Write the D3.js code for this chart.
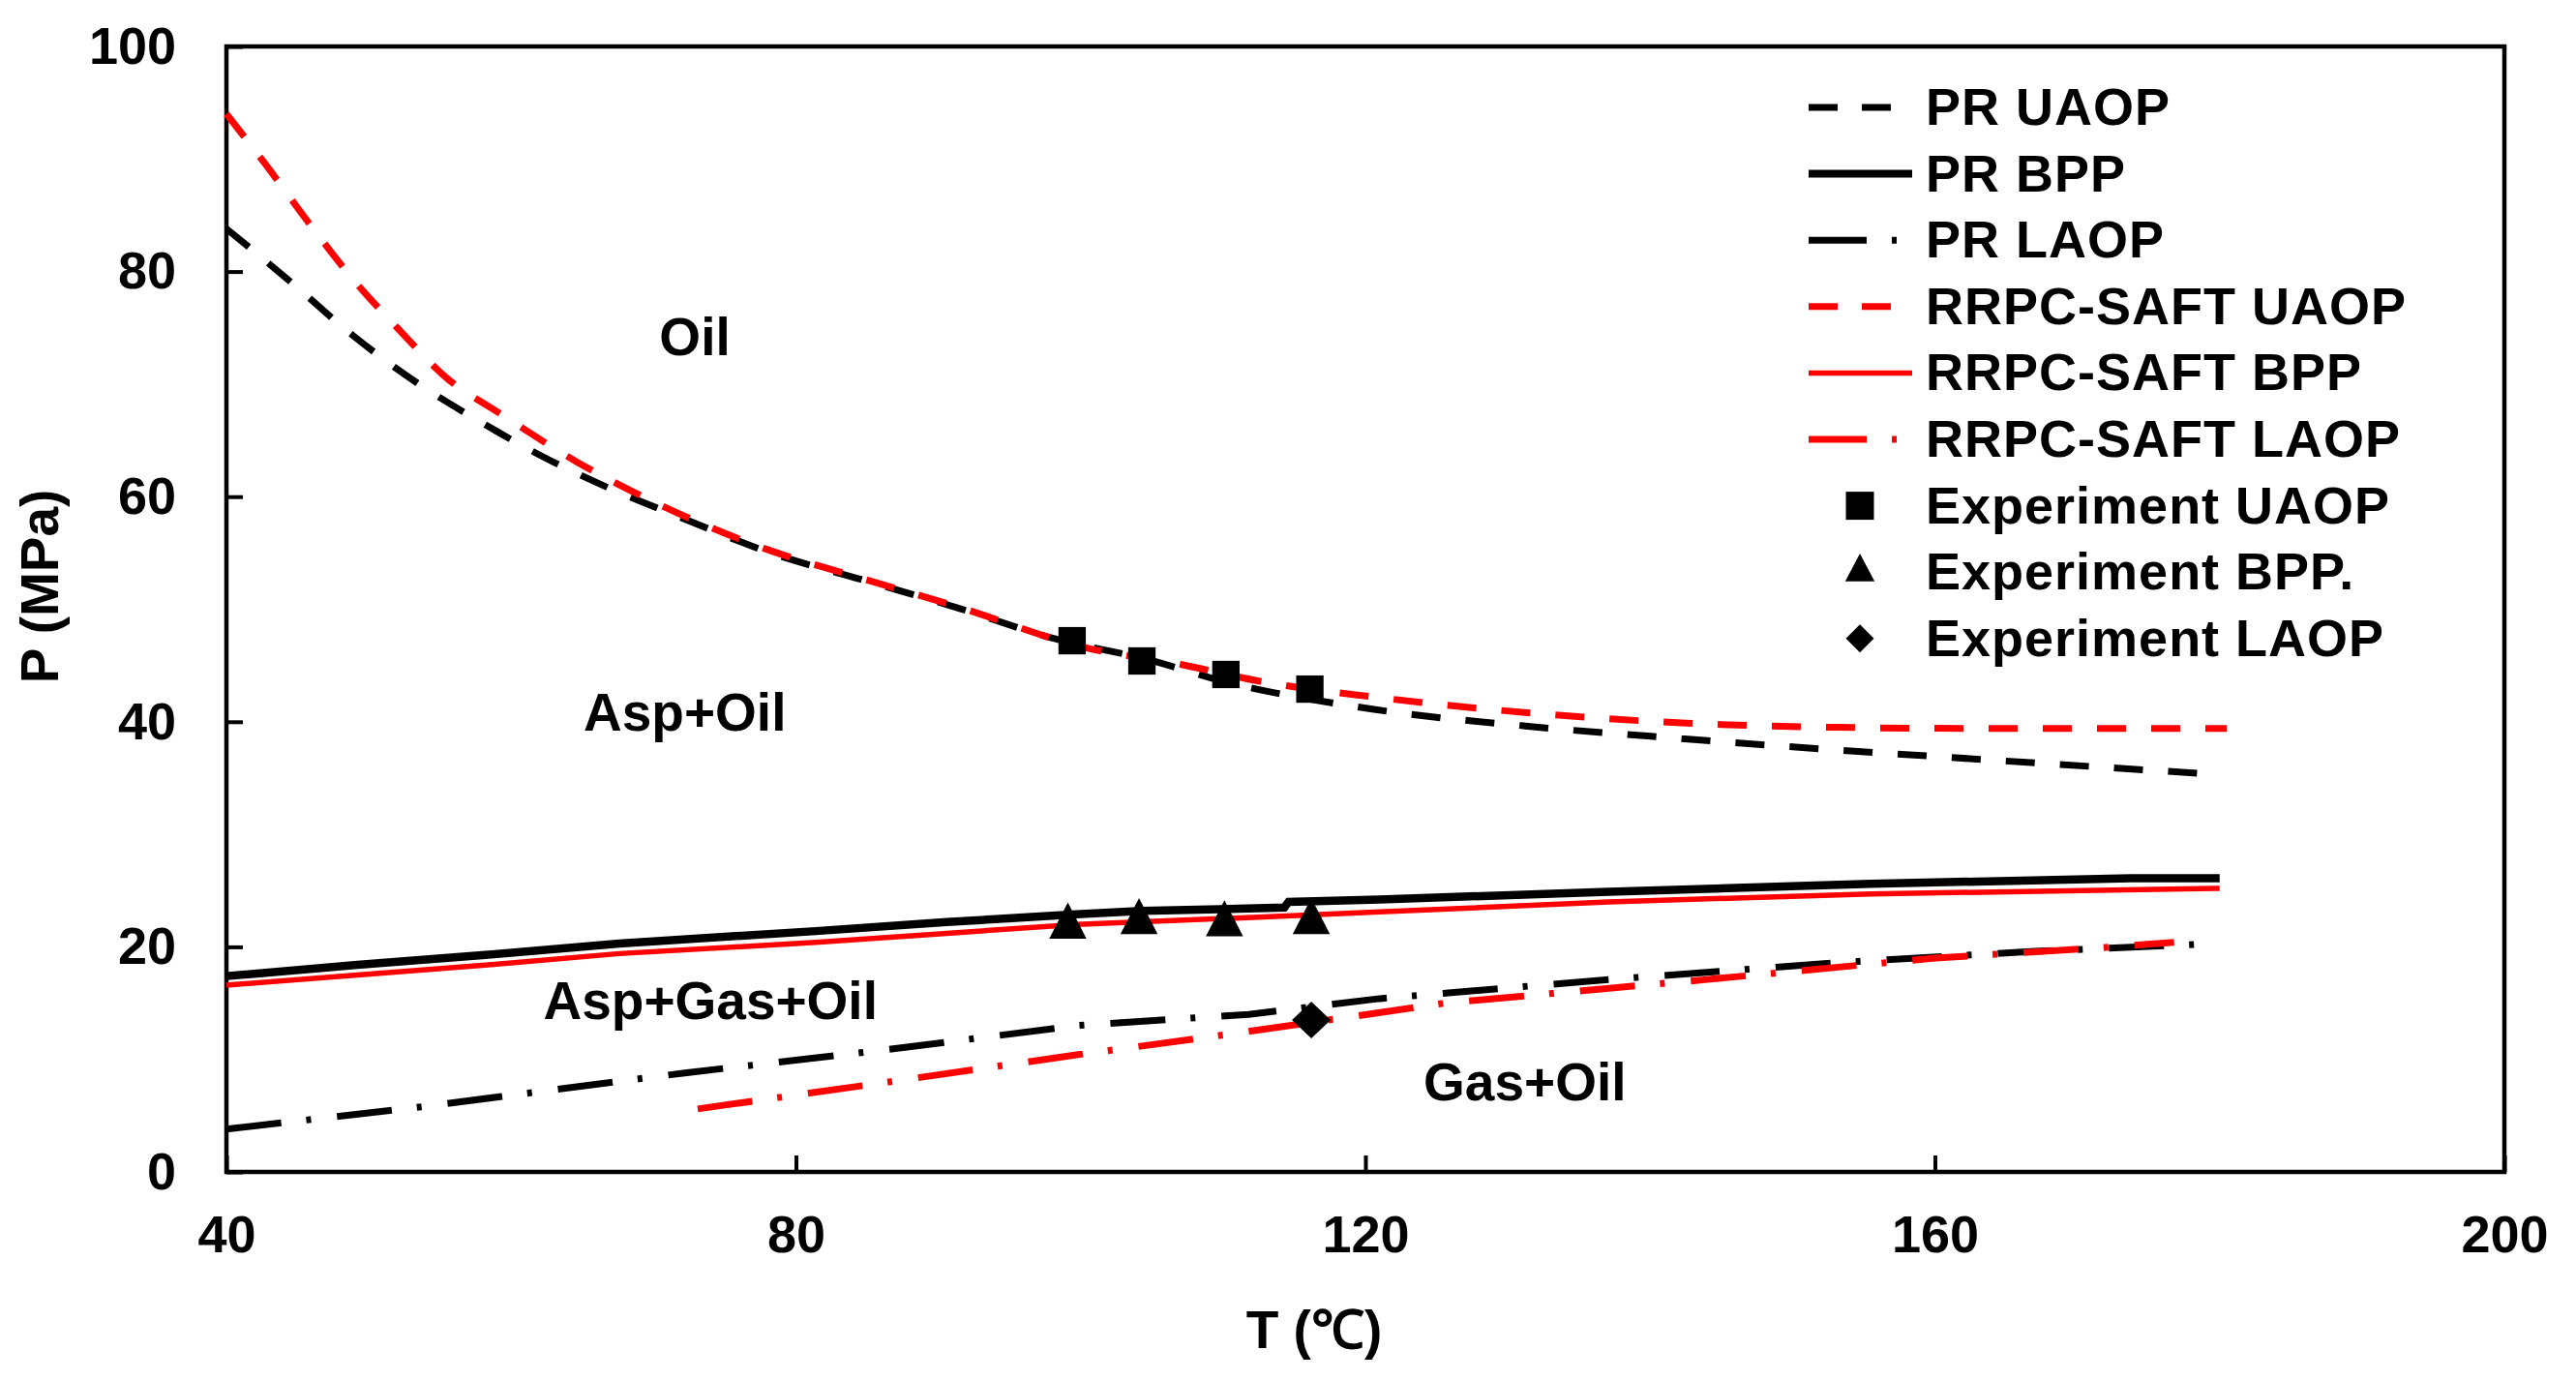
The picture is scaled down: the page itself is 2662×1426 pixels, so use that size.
<!DOCTYPE html>
<html>
<head>
<meta charset="utf-8">
<script src="https://cdn.jsdelivr.net/npm/d3@7/dist/d3.min.js"></script>
<style>
body{margin:0;background:#fff;}
text{font-family:"Liberation Sans",Arial,sans-serif;font-weight:bold;fill:#000;}
</style>
</head>
<body>
<div id="chart"></div>
<script>
var w = 2662;
var h = 1426;
var plotLeft = 234, plotRight = 2588, plotTop = 48, plotBottom = 1211;

var tMin = 40, tMax = 200;
var pMin = 0, pMax = 100;
var xTicks = [40, 80, 120, 160, 200];
var yTicks = [0, 20, 40, 60, 80, 100];

// PR model curves
var prUaopT = [40, 44.5, 48.9, 53.4, 57.9, 62.3, 66.8, 72.2, 78, 84.7, 91.4, 98.1, 104.8, 110, 120.6, 131.4, 142.2, 153, 163.9, 180];
var prUaopP = [83.8, 79.1, 74.3, 70.1, 66.6, 63.5, 60.8, 58.0, 55.1, 52.6, 50.1, 47.4, 45.5, 43.6, 41.1, 39.6, 38.5, 37.5, 36.6, 35.3];
var prBppT = [40, 49.2, 58.4, 67.6, 81.4, 90.6, 99.7, 104.3, 111.7, 114.3, 114.6, 121, 137.1, 155.5, 173.8, 180];
var prBppP = [17.4, 18.4, 19.3, 20.3, 21.4, 22.2, 22.9, 23.2, 23.4, 23.5, 24.0, 24.2, 24.9, 25.6, 26.1, 26.1];
var prLaopT = [40, 53.8, 72.2, 86, 99.7, 111.8, 121, 137.1, 153.2, 167, 180];
var prLaopP = [3.8, 5.8, 8.8, 10.8, 13.0, 14.0, 15.4, 17.1, 18.6, 19.6, 20.3];

// RRPC-SAFT model curves
var saftUaopT = [40, 42.7, 45.8, 48.9, 52, 55.6, 59.2, 64.6, 70.4, 78, 84.7, 91.4, 100.3, 107, 113, 120.6, 131.4, 142.2, 153.1, 165, 180.5];
var saftUaopP = [94.0, 89.6, 84.3, 79.3, 75.0, 70.4, 67.4, 63.1, 59.3, 55.3, 52.7, 50.2, 46.6, 45.1, 43.5, 42.2, 40.8, 39.9, 39.5, 39.4, 39.4];
var saftBppT = [40, 49.2, 58.4, 67.6, 81.4, 90.6, 99.7, 111.7, 121, 137.1, 155.5, 180];
var saftBppP = [16.6, 17.5, 18.4, 19.4, 20.4, 21.2, 22.0, 22.6, 23.1, 24.0, 24.7, 25.2];
var saftLaopT = [73.1, 86, 99.7, 110.8, 125.6, 144, 160, 171.5, 176.8];
var saftLaopP = [5.6, 7.9, 10.4, 12.3, 15.0, 17.1, 19.0, 19.9, 20.4];

// experiments
var expUaopT = [99.4, 104.3, 110.2, 116.1];
var expUaopP = [47.2, 45.4, 44.2, 42.9];
var expBppT = [99.1, 104.1, 110.1, 116.2];
var expBppP = [21.8, 22.2, 22.0, 22.2];
var expLaopT = [116.2];
var expLaopP = [13.5];

var legendLabels = ["PR UAOP", "PR BPP", "PR LAOP", "RRPC-SAFT UAOP", "RRPC-SAFT BPP", "RRPC-SAFT LAOP", "Experiment UAOP", "Experiment BPP.", "Experiment LAOP"];
var regionLabels = ["Oil", "Asp+Oil", "Asp+Gas+Oil", "Gas+Oil"];
var regionT = [72.9, 72.2, 74.0, 131.2];
var regionP = [72.6, 39.2, 13.6, 6.4];

var xScale = d3.scaleLinear().domain([tMin, tMax]).range([plotLeft, plotRight]);
var yScale = d3.scaleLinear().domain([pMin, pMax]).range([plotBottom, plotTop]);

function pts(ts, ps){
  var out = [];
  for (var i = 0; i < ts.length; i++) out.push({t: ts[i], p: ps[i]});
  return out;
}

var svg = d3.select("#chart").append("svg")
  .attr("width", w)
  .attr("height", h);

// axes (ticks inward)
var xAxis = svg.append("g")
  .attr("transform", "translate(0," + plotBottom + ")")
  .call(d3.axisBottom(xScale).tickValues(xTicks).tickSizeInner(-17).tickSizeOuter(0).tickPadding(45));
var yAxis = svg.append("g")
  .attr("transform", "translate(" + plotLeft + ",0)")
  .call(d3.axisLeft(yScale).tickValues(yTicks).tickSizeInner(-17).tickSizeOuter(0).tickPadding(52));
[xAxis, yAxis].forEach(function(a){
  a.select(".domain").remove();
  a.selectAll("line").attr("stroke", "#000").attr("stroke-width", 4);
  a.selectAll("text").style("font-size", "54px").attr("fill", "#000");
});

svg.append("rect")
  .attr("x", plotLeft).attr("y", plotTop)
  .attr("width", plotRight - plotLeft).attr("height", plotBottom - plotTop)
  .attr("fill", "none").attr("stroke", "#000").attr("stroke-width", 4.5);

// axis titles
svg.append("text")
  .attr("x", 1358).attr("y", 1393)
  .attr("text-anchor", "middle")
  .style("font-size", "55px")
  .text("T (℃)");
svg.append("text")
  .attr("transform", "rotate(-90)")
  .attr("x", -606).attr("y", 60)
  .attr("text-anchor", "middle")
  .style("font-size", "55px")
  .text("P (MPa)");

// curves
var smooth = d3.line().x(function(d){ return xScale(d.t); }).y(function(d){ return yScale(d.p); }).curve(d3.curveMonotoneX);
var straight = d3.line().x(function(d){ return xScale(d.t); }).y(function(d){ return yScale(d.p); });

var dashA = "30,26";
var dashDot = "57,26,5,27";

function curve(data, gen, color, width, dash){
  svg.append("path")
    .datum(data)
    .attr("d", gen)
    .attr("fill", "none")
    .attr("stroke", color)
    .attr("stroke-width", width)
    .attr("stroke-dasharray", dash);
}
curve(pts(prBppT, prBppP), straight, "#000", 8.5, null);
curve(pts(saftBppT, saftBppP), straight, "#ff0000", 5.5, null);
curve(pts(prLaopT, prLaopP), straight, "#000", 7, dashDot);
curve(pts(saftLaopT, saftLaopP), straight, "#ff0000", 7, dashDot);
curve(pts(prUaopT, prUaopP), smooth, "#000", 7, dashA);
curve(pts(saftUaopT, saftUaopP), smooth, "#ff0000", 7, dashA);

// experiment markers
var sq = d3.symbol().type(d3.symbolSquare).size(800);
var tri = d3.symbol().type(d3.symbolTriangle).size(640);
var dia = d3.symbol().type(d3.symbolSquare).size(800);

svg.selectAll(".expU").data(pts(expUaopT, expUaopP)).enter().append("path")
  .attr("d", sq)
  .attr("transform", function(d){ return "translate(" + xScale(d.t) + "," + yScale(d.p) + ")"; })
  .attr("fill", "#000");
svg.selectAll(".expB").data(pts(expBppT, expBppP)).enter().append("path")
  .attr("d", tri)
  .attr("transform", function(d){ return "translate(" + xScale(d.t) + "," + yScale(d.p) + ") scale(1,1.12)"; })
  .attr("fill", "#000");
svg.selectAll(".expL").data(pts(expLaopT, expLaopP)).enter().append("path")
  .attr("d", dia)
  .attr("transform", function(d){ return "translate(" + xScale(d.t) + "," + yScale(d.p) + ") scale(1,0.95) rotate(45)"; })
  .attr("fill", "#000");

// region labels
regionLabels.forEach(function(l, i){
  svg.append("text")
    .attr("x", xScale(regionT[i]))
    .attr("y", yScale(regionP[i]))
    .attr("text-anchor", "middle")
    .style("font-size", "55px")
    .text(l);
});

// legend
var legX = 1869, legLineEnd = 1976, legTextX = 1990, legY = 111, legStep = 68.6;
var legStyle = [
  {c: "#000", w: 7, dash: "30,25"},
  {c: "#000", w: 8, dash: null},
  {c: "#000", w: 7, dash: "60,26,5,40"},
  {c: "#ff0000", w: 7, dash: "30,25"},
  {c: "#ff0000", w: 5.5, dash: null},
  {c: "#ff0000", w: 7, dash: "60,26,5,40"},
  {sym: d3.symbol().type(d3.symbolSquare).size(841)},
  {sym: d3.symbol().type(d3.symbolTriangle).size(400), sy: 1.1},
  {sym: d3.symbol().type(d3.symbolSquare).size(420), rot: 45}
];
legendLabels.forEach(function(l, i){
  var y = legY + i * legStep;
  var s = legStyle[i];
  if (s.sym) {
    svg.append("path")
      .attr("d", s.sym)
      .attr("transform", "translate(1922," + y + ")" + (s.sy ? " scale(1," + s.sy + ")" : "") + (s.rot ? " rotate(" + s.rot + ")" : ""))
      .attr("fill", "#000");
  } else {
    svg.append("line")
      .attr("x1", legX).attr("x2", legLineEnd)
      .attr("y1", y).attr("y2", y)
      .attr("stroke", s.c).attr("stroke-width", s.w)
      .attr("stroke-dasharray", s.dash);
  }
  svg.append("text")
    .attr("x", legTextX)
    .attr("y", y + 18)
    .style("font-size", "54px")
    .style("letter-spacing", "1px")
    .text(l);
});
</script>
</body>
</html>
